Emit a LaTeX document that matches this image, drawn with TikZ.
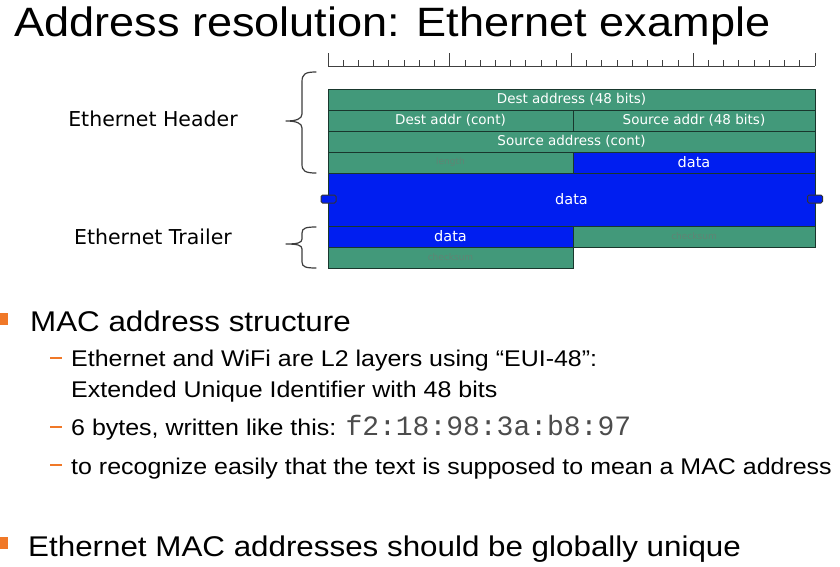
\documentclass[tikz,border=0pt]{standalone}
\usepackage{fontspec}
\setmainfont[FakeStretch=1.1]{Liberation Sans}
\newfontfamily\boxfont{DejaVu Sans}
\newfontfamily\codefont{Liberation Mono}
\definecolor{cellgreen}{RGB}{66,153,122}
\definecolor{cellblue}{RGB}{0,30,240}
\definecolor{cellline}{RGB}{25,55,45}
\definecolor{faint}{RGB}{96,132,116}
\definecolor{bulletorange}{RGB}{240,120,40}
\definecolor{bracegray}{RGB}{60,60,60}
\begin{document}
\begin{tikzpicture}[x=1pt,y=-1pt,
  cell/.style={draw=cellline, line width=0.8pt, inner sep=0pt, outer sep=0pt,
    anchor=north west, minimum height=21pt, text=white,
    font=\boxfont\fontsize{13.5}{15}\selectfont},
  gcell/.style={cell, fill=cellgreen},
  bcell/.style={cell, fill=cellblue, font=\boxfont\fontsize{14.5}{16}\selectfont},
  faintlabel/.style={text=faint, font=\boxfont\fontsize{9}{10}\selectfont},
  tab/.style={draw=black!80, fill=cellblue, line width=1pt, rounded corners=1.5pt,
    minimum width=15pt, minimum height=8pt, inner sep=0pt},
  side/.style={font=\boxfont\fontsize{20.5}{22}\selectfont, inner sep=0pt},
  txt/.style={anchor=base west, inner sep=0pt},
  brace/.style={draw=bracegray, line width=1.2pt, line cap=round, line join=round},
  dashmark/.style={draw=bulletorange, line width=2.4pt},
  sq/.style={fill=bulletorange, draw=none, minimum size=12pt, inner sep=0pt}
]
\useasboundingbox[fill=white] (0,0) rectangle (840,566);

% title
\node[txt, font=\fontsize{41}{45}\selectfont] (title) at (14,36) {Address resolution: Ethernet example};

% ruler
\draw[draw=black!75, line width=0.9pt] (328,66) -- (815,66);
\foreach \i in {0,...,32}{
  \pgfmathsetmacro{\xx}{328+\i*487/32}
  \pgfmathtruncatemacro{\m}{mod(\i,8)}
  \ifnum\m=0
    \draw[draw=black!75, line width=0.9pt] (\xx,53) -- (\xx,66);
  \else
    \draw[draw=black!75, line width=0.9pt] (\xx,60) -- (\xx,66);
  \fi
}

% header rows
\node[gcell, minimum width=487pt] (r1) at (328,89) {Dest address (48 bits)};
\node[gcell, minimum width=245pt] (r2a) at (328,110) {Dest addr (cont)};
\node[gcell, minimum width=242pt] (r2b) at (573,110) {Source addr (48 bits)};
\node[gcell, minimum width=487pt] (r3) at (328,131) {Source address (cont)};
\node[gcell, minimum width=245pt, faintlabel] (r4a) at (328,152) {length};
\node[bcell, minimum width=242pt] (r4b) at (573,152) {data};
% data
\node[bcell, minimum width=487pt, minimum height=53pt] (big) at (328,173) {data};
\node[tab] (tabl) at (328.5,199) {};
\node[tab] (tabr) at (815,199) {};
% trailer
\node[bcell, minimum width=245pt] (t1a) at (328,226) {data};
\node[gcell, minimum width=242pt, faintlabel] (t1b) at (573,226) {checksum};
\node[gcell, minimum width=245pt, faintlabel] (t2) at (328,247) {checksum};

% side labels and braces
\node[side] (hdr) at (153,119) {Ethernet Header};
\node[side] (trl) at (153,237) {Ethernet Trailer};
\draw[brace] (316,72) .. controls (305,72) and (302,74) .. (302,82)
  -- (302,114) .. controls (302,119) and (296,121) .. (286,121)
  .. controls (296,121) and (302,123) .. (302,128)
  -- (302,164) .. controls (302,171) and (305,173) .. (316,173);
\draw[brace] (316,227) .. controls (306,227) and (302,228) .. (302,233)
  -- (302,239) .. controls (302,243) and (297,244) .. (286,244)
  .. controls (297,244) and (302,245) .. (302,249)
  -- (302,262) .. controls (302,267) and (306,268) .. (316,268);

% bullets
\node[sq] (b1) at (2,319) {};
\node[txt, font=\fontsize{28.5}{32}\selectfont] (l1) at (30,331) {MAC address structure};
\coordinate (d1a) at (50,358); \coordinate (d1b) at (62,358);
\draw[dashmark] (d1a) -- (d1b);
\node[txt, font=\fontsize{22.7}{26}\selectfont] (l2) at (71,366) {Ethernet and WiFi are L2 layers using “EUI-48”:};
\node[txt, font=\fontsize{22.7}{26}\selectfont] (l3) at (71,397) {Extended Unique Identifier with 48 bits};
\coordinate (d2a) at (50,427); \coordinate (d2b) at (62,427);
\draw[dashmark] (d2a) -- (d2b);
\node[txt, font=\fontsize{22.7}{26}\selectfont] (l4) at (71,435) {6 bytes, written like this: {\codefont\fontsize{28}{30}\selectfont\color{black!70}f2:18:98:3a:b8:97}};
\coordinate (d3a) at (50,465); \coordinate (d3b) at (62,465);
\draw[dashmark] (d3a) -- (d3b);
\node[txt, font=\fontsize{22.7}{26}\selectfont] (l5) at (71,474) {to recognize easily that the text is supposed to mean a MAC address};
\node[sq] (b2) at (2,543) {};
\node[txt, font=\fontsize{28.5}{32}\selectfont] (l6) at (28,556) {Ethernet MAC addresses should be globally unique};
\end{tikzpicture}
\end{document}
